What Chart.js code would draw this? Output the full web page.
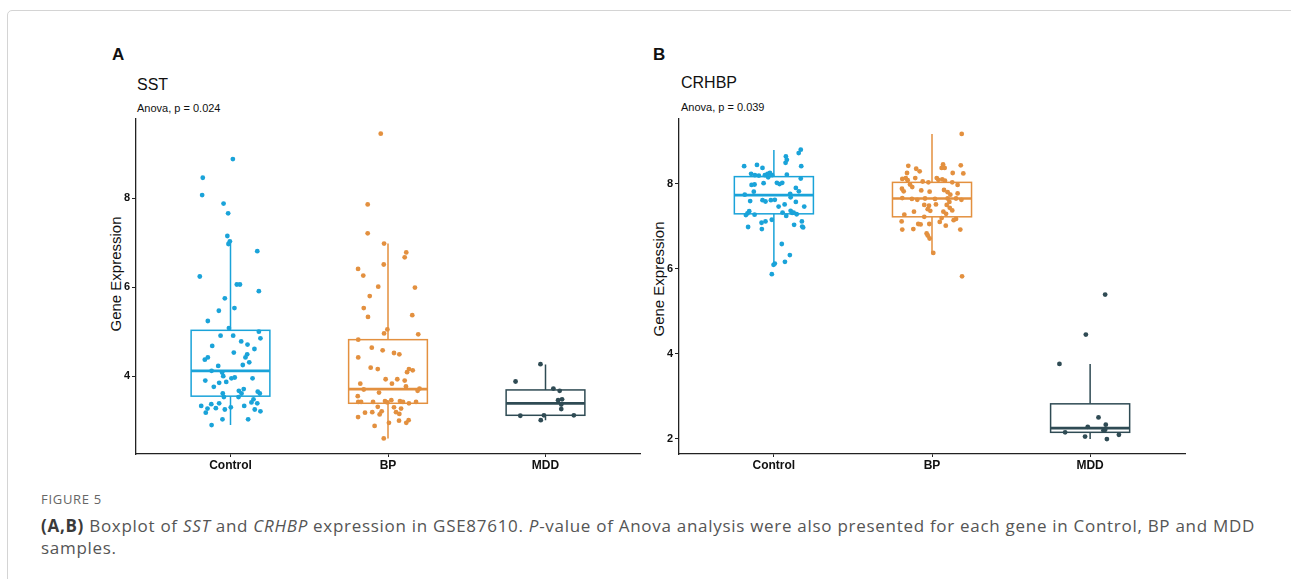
<!DOCTYPE html>
<html>
<head>
<meta charset="utf-8">
<script src="https://cdn.jsdelivr.net/npm/chart.js@4.4.1/dist/chart.umd.min.js"></script>
<style>
html,body{margin:0;padding:0;background:#fff;width:1291px;height:579px;overflow:hidden;font-family:"Liberation Sans",Arial,sans-serif;}
.frame{position:absolute;left:7px;top:10px;width:1400px;height:700px;border:1.5px solid #d4d4d4;border-radius:5px;box-sizing:border-box;}
.t{position:absolute;white-space:nowrap;line-height:1;color:#111;font-family:"Liberation Sans",Arial,sans-serif;}
.lab{font-size:17px;font-weight:bold;}
.gene{font-size:16px;}
.anova{font-size:11px;}
.ytitle{font-size:15px;transform:translate(-50%,-50%) rotate(-90deg);}
canvas{position:absolute;}
.fig{position:absolute;left:41px;top:493px;font-family:"Open Sans",sans-serif;font-size:13px;color:#666;letter-spacing:0.7px;line-height:1;white-space:nowrap;}
.cap{position:absolute;left:41px;top:515px;font-family:"Open Sans",sans-serif;font-size:17px;color:#555;line-height:22px;white-space:nowrap;}
.cap b{color:#3a3a3a;}
</style>
</head>
<body>
<div class="frame"></div>

<div class="t lab" style="left:112px;top:45.5px;">A</div>
<div class="t gene" style="left:137px;top:76.5px;">SST</div>
<div class="t anova" style="left:137px;top:102.5px;">Anova, p = 0.024</div>
<div class="t ytitle" style="left:115px;top:274px;">Gene Expression</div>

<div class="t lab" style="left:653px;top:46px;">B</div>
<div class="t gene" style="left:681px;top:74.5px;">CRHBP</div>
<div class="t anova" style="left:681px;top:102px;">Anova, p = 0.039</div>
<div class="t ytitle" style="left:658px;top:279px;">Gene Expression</div>

<canvas id="chartA" width="545" height="370" style="left:100px;top:110px;"></canvas>
<canvas id="chartB" width="547" height="370" style="left:643px;top:110px;"></canvas>

<div class="fig">FIGURE 5</div>
<div class="cap" id="cap"><span id="capLine1"><b>(A,B)</b> Boxplot of <i>SST</i> and <i>CRHBP</i> expression in GSE87610. <i>P</i>-value of Anova analysis were also presented for each gene in Control, BP and MDD</span><br>samples.</div>

<script>
// ---------- data ----------
const categories = ["Control", "BP", "MDD"];
const groupColors = ["#1aa3d9", "#e3903f", "#2f4b54"];

const sstTicks = [4, 6, 8];
const crhbpTicks = [2, 4, 6, 8];

// box stats: [lower whisker, Q1, median, Q3, upper whisker]
const sstBoxes = [[2.90, 3.55, 4.12, 5.03, 7.02], [2.60, 3.39, 3.71, 4.82, 6.98], [3.01, 3.12, 3.39, 3.69, 4.26]];
const crhbpBoxes = [[6.09, 7.29, 7.73, 8.165, 8.79], [6.37, 7.22, 7.65, 8.03, 9.17], [1.99, 2.15, 2.25, 2.82, 3.76]];

const sstControlValues = [8.88,8.46,8.07,7.88,7.66,7.15,7.03,6.97,6.81,6.24,6.06,6.06,5.91,5.75,5.53,5.47,5.24,5.08,5.00,4.91,4.91,4.85,4.78,4.71,4.68,4.61,4.53,4.49,4.42,4.42,4.37,4.31,4.25,4.23,4.12,4.08,3.97,3.95,4.00,3.95,3.90,3.87,3.85,3.76,3.67,3.71,3.65,3.61,3.61,3.61,3.53,3.53,3.48,3.41,3.33,3.37,3.39,3.27,3.28,3.30,3.25,3.33,3.39,3.25,3.21,3.18,3.03,3.03,2.90];
const sstControlJitter = [0.015,-0.176,-0.18,-0.044,-0.015,-0.02,-0.004,-0.013,0.17,-0.195,0.04,0.06,0.18,-0.036,0.025,-0.074,-0.144,-0.01,0.18,-0.063,0.017,0.19,0.068,0.108,-0.116,0.152,0.021,0.106,0.095,-0.144,-0.163,0.119,0.078,-0.078,-0.12,-0.053,0.027,0.006,-0.046,0.14,-0.16,-0.027,-0.072,-0.106,0.053,0.084,0.173,0.186,0.07,-0.049,0.051,-0.042,0.146,0.133,-0.186,-0.122,-0.072,-0.146,-0.093,0.002,-0.036,0.087,0.17,0.154,0.19,-0.157,-0.051,0.112,-0.12];

const sstBPValues = [9.45,7.86,7.21,6.98,6.78,6.67,6.51,6.41,6.26,6.01,5.99,5.80,5.53,5.33,5.37,5.05,4.96,4.94,4.82,4.64,4.58,4.52,4.49,4.42,4.19,4.16,4.16,4.13,4.09,3.93,3.93,3.90,3.83,3.83,3.77,3.72,3.70,3.67,3.63,3.55,3.42,3.42,3.42,3.44,3.41,3.46,3.44,3.42,3.39,3.42,3.31,3.30,3.27,3.21,3.19,3.19,3.18,3.14,3.15,3.08,3.01,3.00,2.95,2.95,2.88,2.60];
const sstBPJitter = [-0.046,-0.129,-0.129,-0.025,0.116,0.106,-0.027,-0.19,-0.157,-0.062,0.171,-0.116,-0.154,-0.127,0.154,-0.004,-0.025,0.192,-0.189,-0.103,-0.034,0.038,0.072,-0.189,-0.11,-0.065,0.133,0.157,0.121,-0.015,0.059,0.106,0.025,-0.176,0.114,0.2,-0.154,0.188,-0.057,-0.192,-0.189,-0.171,-0.095,-0.019,-0.004,0.021,0.076,0.095,0.133,0.178,-0.065,0.038,0.083,-0.04,-0.1,0.051,-0.146,-0.053,0.072,-0.19,0.131,0.07,0.116,0.006,-0.085,-0.027];

const sstMDDValues = [4.27,3.88,3.72,3.67,3.46,3.48,3.36,3.26,3.11,3.12,3.12,3.01];
const sstMDDJitter = [-0.032,-0.19,0.05,0.09,0.08,0.105,0.1,0.1,-0.16,-0.01,0.18,-0.03];

const crhbpControlValues = [8.80,8.72,8.64,8.56,8.49,8.41,8.44,8.37,8.41,8.23,8.20,8.19,8.20,8.23,8.25,8.20,8.15,8.21,8.12,8.01,8.02,7.99,8.02,7.97,7.98,7.90,7.82,7.81,7.74,7.76,7.68,7.61,7.58,7.61,7.62,7.59,7.57,7.46,7.51,7.46,7.36,7.31,7.35,7.30,7.27,7.32,7.24,7.32,7.28,7.26,7.15,7.11,7.08,7.11,7.03,6.98,6.93,6.99,6.97,6.58,6.32,6.16,6.12,6.09,5.87];
const crhbpControlJitter = [0.17,0.157,0.076,0.082,0.074,-0.188,-0.107,-0.072,0.173,-0.144,-0.12,-0.095,-0.057,-0.04,-0.025,-0.011,-0.036,0.082,0.17,-0.065,0.019,0.036,0.053,-0.141,-0.122,0.139,0.158,-0.127,-0.184,0.103,0.106,-0.072,-0.053,-0.019,0.006,-0.15,0.139,0.03,0.068,0.192,0.106,0.116,-0.156,-0.167,-0.122,0.055,0.078,0.125,0.144,-0.177,-0.013,-0.053,-0.078,0.177,0.128,-0.163,-0.076,0.179,0.185,0.05,0.101,0.07,0.006,-0.002,-0.013];

const crhbpBPValues = [9.17,5.82,6.37,8.42,8.35,8.29,8.25,8.45,8.37,8.37,8.43,8.24,8.25,8.11,8.13,8.08,8.13,7.98,7.92,8.05,8.03,8.13,8.09,8.10,8.07,8.03,7.97,7.88,7.82,7.84,7.81,7.85,7.80,7.74,7.77,7.66,7.64,7.62,7.65,7.64,7.65,7.65,7.62,7.57,7.50,7.48,7.51,7.50,7.43,7.40,7.36,7.34,7.34,7.29,7.37,7.27,7.22,7.19,7.14,7.17,7.11,7.05,7.04,7.05,7.10,7.01,6.92,6.93,6.92,6.83,6.78,6.71];
const crhbpBPJitter = [0.188,0.19,0.008,-0.15,-0.1,-0.078,-0.158,0.07,0.08,0.061,0.182,0.198,0.131,-0.188,-0.166,-0.154,-0.106,-0.139,-0.125,-0.059,-0.023,0.03,0.04,0.065,0.082,0.128,0.162,-0.19,-0.179,-0.068,-0.015,0.076,0.099,0.116,0.162,-0.188,-0.127,-0.093,-0.044,0.019,0.099,0.152,0.186,0.11,-0.049,-0.019,0.025,0.093,0.112,-0.027,-0.011,-0.114,0.072,0.089,0.128,-0.175,-0.049,0.061,0.137,0.152,-0.192,-0.087,-0.072,-0.017,0.049,0.087,-0.188,-0.118,0.179,-0.034,-0.027,-0.015];

const crhbpMDDValues = [5.39,4.45,3.76,2.50,2.28,2.33,2.15,2.19,2.21,2.05,2.09,1.99];
const crhbpMDDJitter = [0.095,-0.027,-0.194,0.053,-0.015,0.099,-0.158,0.084,0.095,-0.032,0.182,0.106];

// ---------- caption fit (first line spans to x ≈ 1255) ----------
(function fitCaption() {
  const line = document.getElementById('capLine1');
  const cap = document.getElementById('cap');
  const target = 1255 - 41;
  const w = line.getBoundingClientRect().width;
  const n = line.textContent.length;
  cap.style.letterSpacing = ((target - w) / n).toFixed(3) + 'px';
})();

// ---------- drawing ----------
const FONT = '"Liberation Sans", Arial, sans-serif';
const BOX_HALF = 0.25;

function boxPlugin(boxes) {
  return {
    id: 'boxes',
    beforeDatasetsDraw(chart) {
      const ctx = chart.ctx, xs = chart.scales.x, ys = chart.scales.y;
      boxes.forEach((b, g) => {
        const [lo, q1, med, q3, hi] = b;
        const c = g + 1;
        const xl = xs.getPixelForValue(c - BOX_HALF);
        const xr = xs.getPixelForValue(c + BOX_HALF);
        const xc = xs.getPixelForValue(c);
        const yq1 = ys.getPixelForValue(q1), yq3 = ys.getPixelForValue(q3);
        ctx.save();
        ctx.strokeStyle = groupColors[g];
        ctx.lineWidth = 1.5;
        ctx.beginPath();
        ctx.moveTo(xc, yq3); ctx.lineTo(xc, ys.getPixelForValue(hi));
        ctx.moveTo(xc, yq1); ctx.lineTo(xc, ys.getPixelForValue(lo));
        ctx.stroke();
        ctx.strokeRect(xl, yq3, xr - xl, yq1 - yq3);
        ctx.lineWidth = 2.7;
        ctx.beginPath();
        const ym = ys.getPixelForValue(med);
        ctx.moveTo(xl, ym); ctx.lineTo(xr, ym);
        ctx.stroke();
        ctx.restore();
      });
    }
  };
}

function makePanel(id, groupValues, groupJitter, boxes, yMin, yMax, yTicks, padTop) {
  const datasets = groupValues.map((vals, g) => ({
    data: vals.map((v, i) => ({ x: g + 1 + groupJitter[g][i], y: v })),
    backgroundColor: groupColors[g],
    borderColor: groupColors[g],
    borderWidth: 0,
    pointRadius: 2.4,
    pointHoverRadius: 2.4
  }));
  new Chart(document.getElementById(id), {
    type: 'scatter',
    data: { datasets },
    options: {
      responsive: false,
      animation: false,
      layout: { padding: { top: padTop, right: 5, left: 0, bottom: 0 } },
      plugins: { legend: { display: false }, tooltip: { enabled: false } },
      scales: {
        x: {
          type: 'linear', min: 0.4, max: 3.6,
          afterBuildTicks: s => { s.ticks = categories.map((c, i) => ({ value: i + 1 })); },
          afterFit: s => { s.height = 26; },
          ticks: {
            autoSkip: false, maxRotation: 0, padding: 1, color: '#111',
            font: { family: FONT, size: 12, weight: 'bold' },
            callback: v => categories[Math.round(v) - 1]
          },
          grid: { display: true, drawOnChartArea: false, drawTicks: true, tickLength: 3, color: '#222', lineWidth: 1 },
          border: { display: true, color: '#222', width: 1.3 }
        },
        y: {
          type: 'linear', min: yMin, max: yMax,
          afterBuildTicks: s => { s.ticks = yTicks.map(v => ({ value: v })); },
          afterFit: s => { s.width = 36; },
          ticks: {
            padding: 2, color: '#111',
            font: { family: FONT, size: 11, weight: 'bold' }
          },
          grid: { display: true, drawOnChartArea: false, drawTicks: true, tickLength: 4, color: '#222', lineWidth: 1 },
          border: { display: true, color: '#222', width: 1.3 }
        }
      }
    },
    plugins: [boxPlugin(boxes)]
  });
}

makePanel('chartA',
  [sstControlValues, sstBPValues, sstMDDValues],
  [sstControlJitter, sstBPJitter, sstMDDJitter],
  sstBoxes, 2.25, 9.78, sstTicks, 9);

makePanel('chartB',
  [crhbpControlValues, crhbpBPValues, crhbpMDDValues],
  [crhbpControlJitter, crhbpBPJitter, crhbpMDDJitter],
  crhbpBoxes, 1.64, 9.53, crhbpTicks, 8);
</script>
</body>
</html>
